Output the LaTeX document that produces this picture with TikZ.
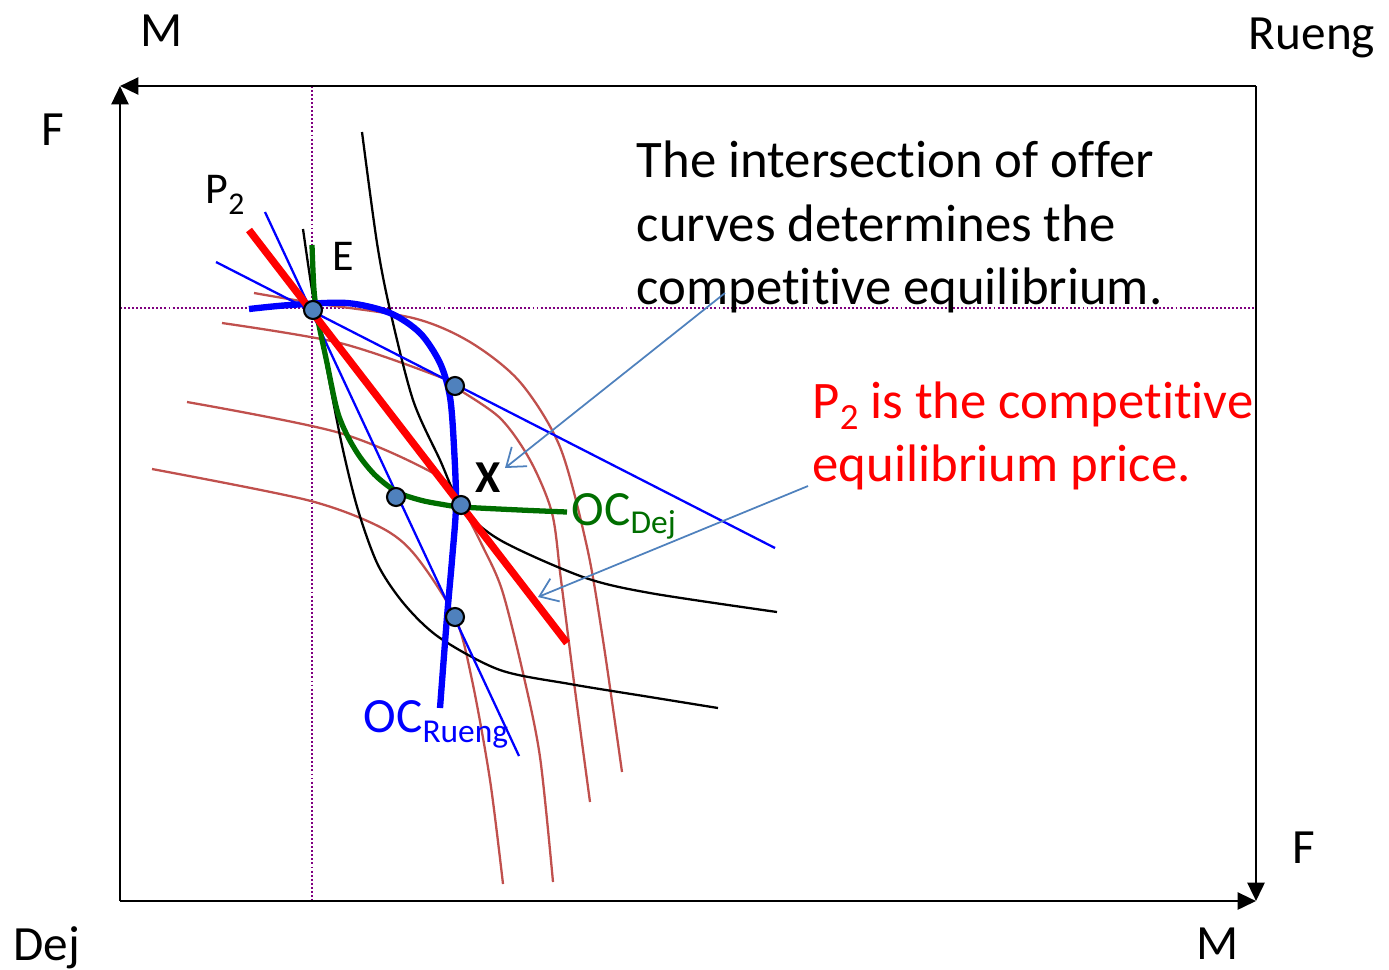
\documentclass[tikz,border=0pt]{standalone}
\usepackage{fontspec}
\setmainfont{Carlito}[Ligatures={NoCommon,NoRequired,NoContextual}]
\usetikzlibrary{arrows.meta}
\definecolor{ocblue}{RGB}{0,0,255}
\definecolor{ocgreen}{RGB}{0,110,0}
\definecolor{icbrown}{RGB}{192,80,77}
\definecolor{guide}{RGB}{128,0,128}
\definecolor{dotfill}{RGB}{79,129,189}
\definecolor{callout}{RGB}{79,129,189}
\newcommand\nolig{\kern0pt}
\begin{document}
\begin{tikzpicture}[x=0.01cm,y=-0.01cm,
 axis/.style={line width=0.75pt,-{Triangle[length=5.2pt,width=4.8pt]}},
 guideline/.style={guide,line width=0.55pt,dash pattern=on 0.55pt off 0.6pt},
 brownic/.style={icbrown,line width=0.65pt},
 blackic/.style={black,line width=0.65pt},
 budget/.style={ocblue,line width=0.65pt},
 ocrueng/.style={ocblue,line width=1.8pt},
 ocdej/.style={ocgreen,line width=1.5pt},
 price/.style={red,line width=2.1pt},
 eqdot/.style={circle,draw=black,line width=0.6pt,fill=dotfill,inner sep=0pt,minimum size=0.18cm},
 callarrow/.style={callout,line width=0.5pt,-{Straight Barb[length=4.8pt,width=7pt]}},
 corner/.style={font=\fontsize{14}{16}\selectfont,inner sep=0pt,anchor=base},
 small/.style={font=\fontsize{12.5}{14}\selectfont,inner sep=0pt,anchor=base},
 bigtext/.style={font=\fontsize{15}{18}\selectfont,inner sep=0pt,anchor=base west},
]
\useasboundingbox (0,0) rectangle (1389,969);
% frame corners
\coordinate (TL) at (120,86);
\coordinate (TR) at (1256,86);
\coordinate (BL) at (120,901);
\coordinate (BR) at (1256,901);
\coordinate (Vtop) at (312,86);
\coordinate (Vbot) at (312,901);
\coordinate (Hl) at (120,308);
\coordinate (Hr) at (1256,308);
% dotted guides
\draw[guideline] (Vtop) -- (Vbot);
\draw[guideline] (Hl) -- (Hr);
% frame
\draw[axis] (BL) -- (TL);
\draw[axis] (TR) -- (TL);
\draw[axis] (TR) -- (BR);
\draw[axis] (BL) -- (BR);
% brown indifference curves
\draw[brownic] plot[smooth] coordinates {(254,293) (313,303) (413,318) (470,342) (520,382) (560,447) (587,547) (603,640) (622,772)};
\draw[brownic] plot[smooth] coordinates {(222,323) (340,343) (440,377) (455,387) (500,418) (530,460) (552,513) (561,580) (575,690) (590,802)};
\draw[brownic] plot[smooth] coordinates {(187,402) (340,433) (440,477) (462,507) (482,545) (502,590) (523,673) (540,757) (553,882)};
\draw[brownic] plot[smooth] coordinates {(152,469) (307,500) (380,527) (415,555) (455,617) (472,680) (490,780) (503,884)};
% black indifference curves
\draw[blackic] plot[smooth] coordinates {(362,132) (377,243) (390,310) (413,400) (440,460) (462,507) (500,540) (583,577) (650,593) (777,612)};
\draw[blackic] plot[smooth] coordinates {(303,229) (312,290) (320,330) (330,385) (343,450) (358,510) (378,565) (405,605) (440,638) (500,670) (570,684) (650,697) (718,708)};
% thin budget lines
\coordinate (L1a) at (216,262);
\coordinate (L1b) at (775,548);
\coordinate (L2a) at (265,212);
\coordinate (L2b) at (519,756);
\draw[budget] (L1a) -- (L1b);
\draw[budget] (L2a) -- (L2b);
% offer curves
\draw[ocdej] plot[smooth] coordinates {(312,245) (314,290) (318,320) (327,363) (337,410) (347,435) (360,457) (376,476) (397,492) (420,500) (440,504) (462,507) (520,510) (567,512)};
\draw[ocrueng] plot[smooth] coordinates {(249,309) (290,305) (347,303) (390,313) (420,333) (440,363) (450,397) (454,447) (456,505) (452,560) (447,617) (440,708)};
% price line
\coordinate (Pa) at (249,230);
\coordinate (Pb) at (567,643);
\draw[price] (Pa) -- (Pb);
% dots
\node[eqdot] (E) at (313,310) {};
\node[eqdot] (Da) at (455,386) {};
\node[eqdot] (Db) at (396,497) {};
\node[eqdot] (X) at (461,505) {};
\node[eqdot] (Dc) at (455,617) {};
% labels
\node[corner] (Mtop) at (162,46) {M};
\node[corner] (Rtop) at (1312,49) {Rueng};
\node[corner] (Fleft) at (53,145) {F};
\node[corner] (Dej) at (47,960) {Dej};
\node[corner] (Mbot) at (1218,959) {M};
\node[corner] (Fright) at (1304,863) {F};
\node[small] (Elbl) at (343,270) {E};
\node[small,anchor=base west] (P2lbl) at (205,203) {P\raisebox{-3.3pt}{\fontsize{9}{9}\selectfont 2}};
\node[small,anchor=base] (Xlbl) at (488,492) {\fontsize{13}{14}\selectfont\bfseries X};
\node[corner,anchor=base west,text=ocgreen] (OCD) at (571,525) {OC\raisebox{-2.4pt}{\fontsize{9.5}{9.5}\selectfont Dej}};
\node[corner,anchor=base west,text=ocblue] (OCR) at (363,732) {OC\raisebox{-3.1pt}{\fontsize{9.5}{9.5}\selectfont Rueng}};
% main text
\node[bigtext] (T1) at (636,177) {The intersect\nolig ion of of\nolig fer};
\node[bigtext] (T2) at (636,241) {curves determines the};
\node[bigtext] (T3) at (636,304) {compet\nolig it\nolig ive equilibrium.};
\node[bigtext,text=red] (R1) at (812,418) {P\raisebox{-3.3pt}{\fontsize{10.5}{10.5}\selectfont 2} is the compet\nolig it\nolig ive};
\node[bigtext,text=red] (R2) at (812,481) {equilibrium price.};
% callout arrows
\coordinate (A1s) at (725,293);
\coordinate (A1e) at (505,468);
\coordinate (A2s) at (808,486);
\coordinate (A2e) at (538,597);
\draw[callarrow] (A1s) -- (A1e);
\draw[callarrow] (A2s) -- (A2e);
\end{tikzpicture}
\end{document}
